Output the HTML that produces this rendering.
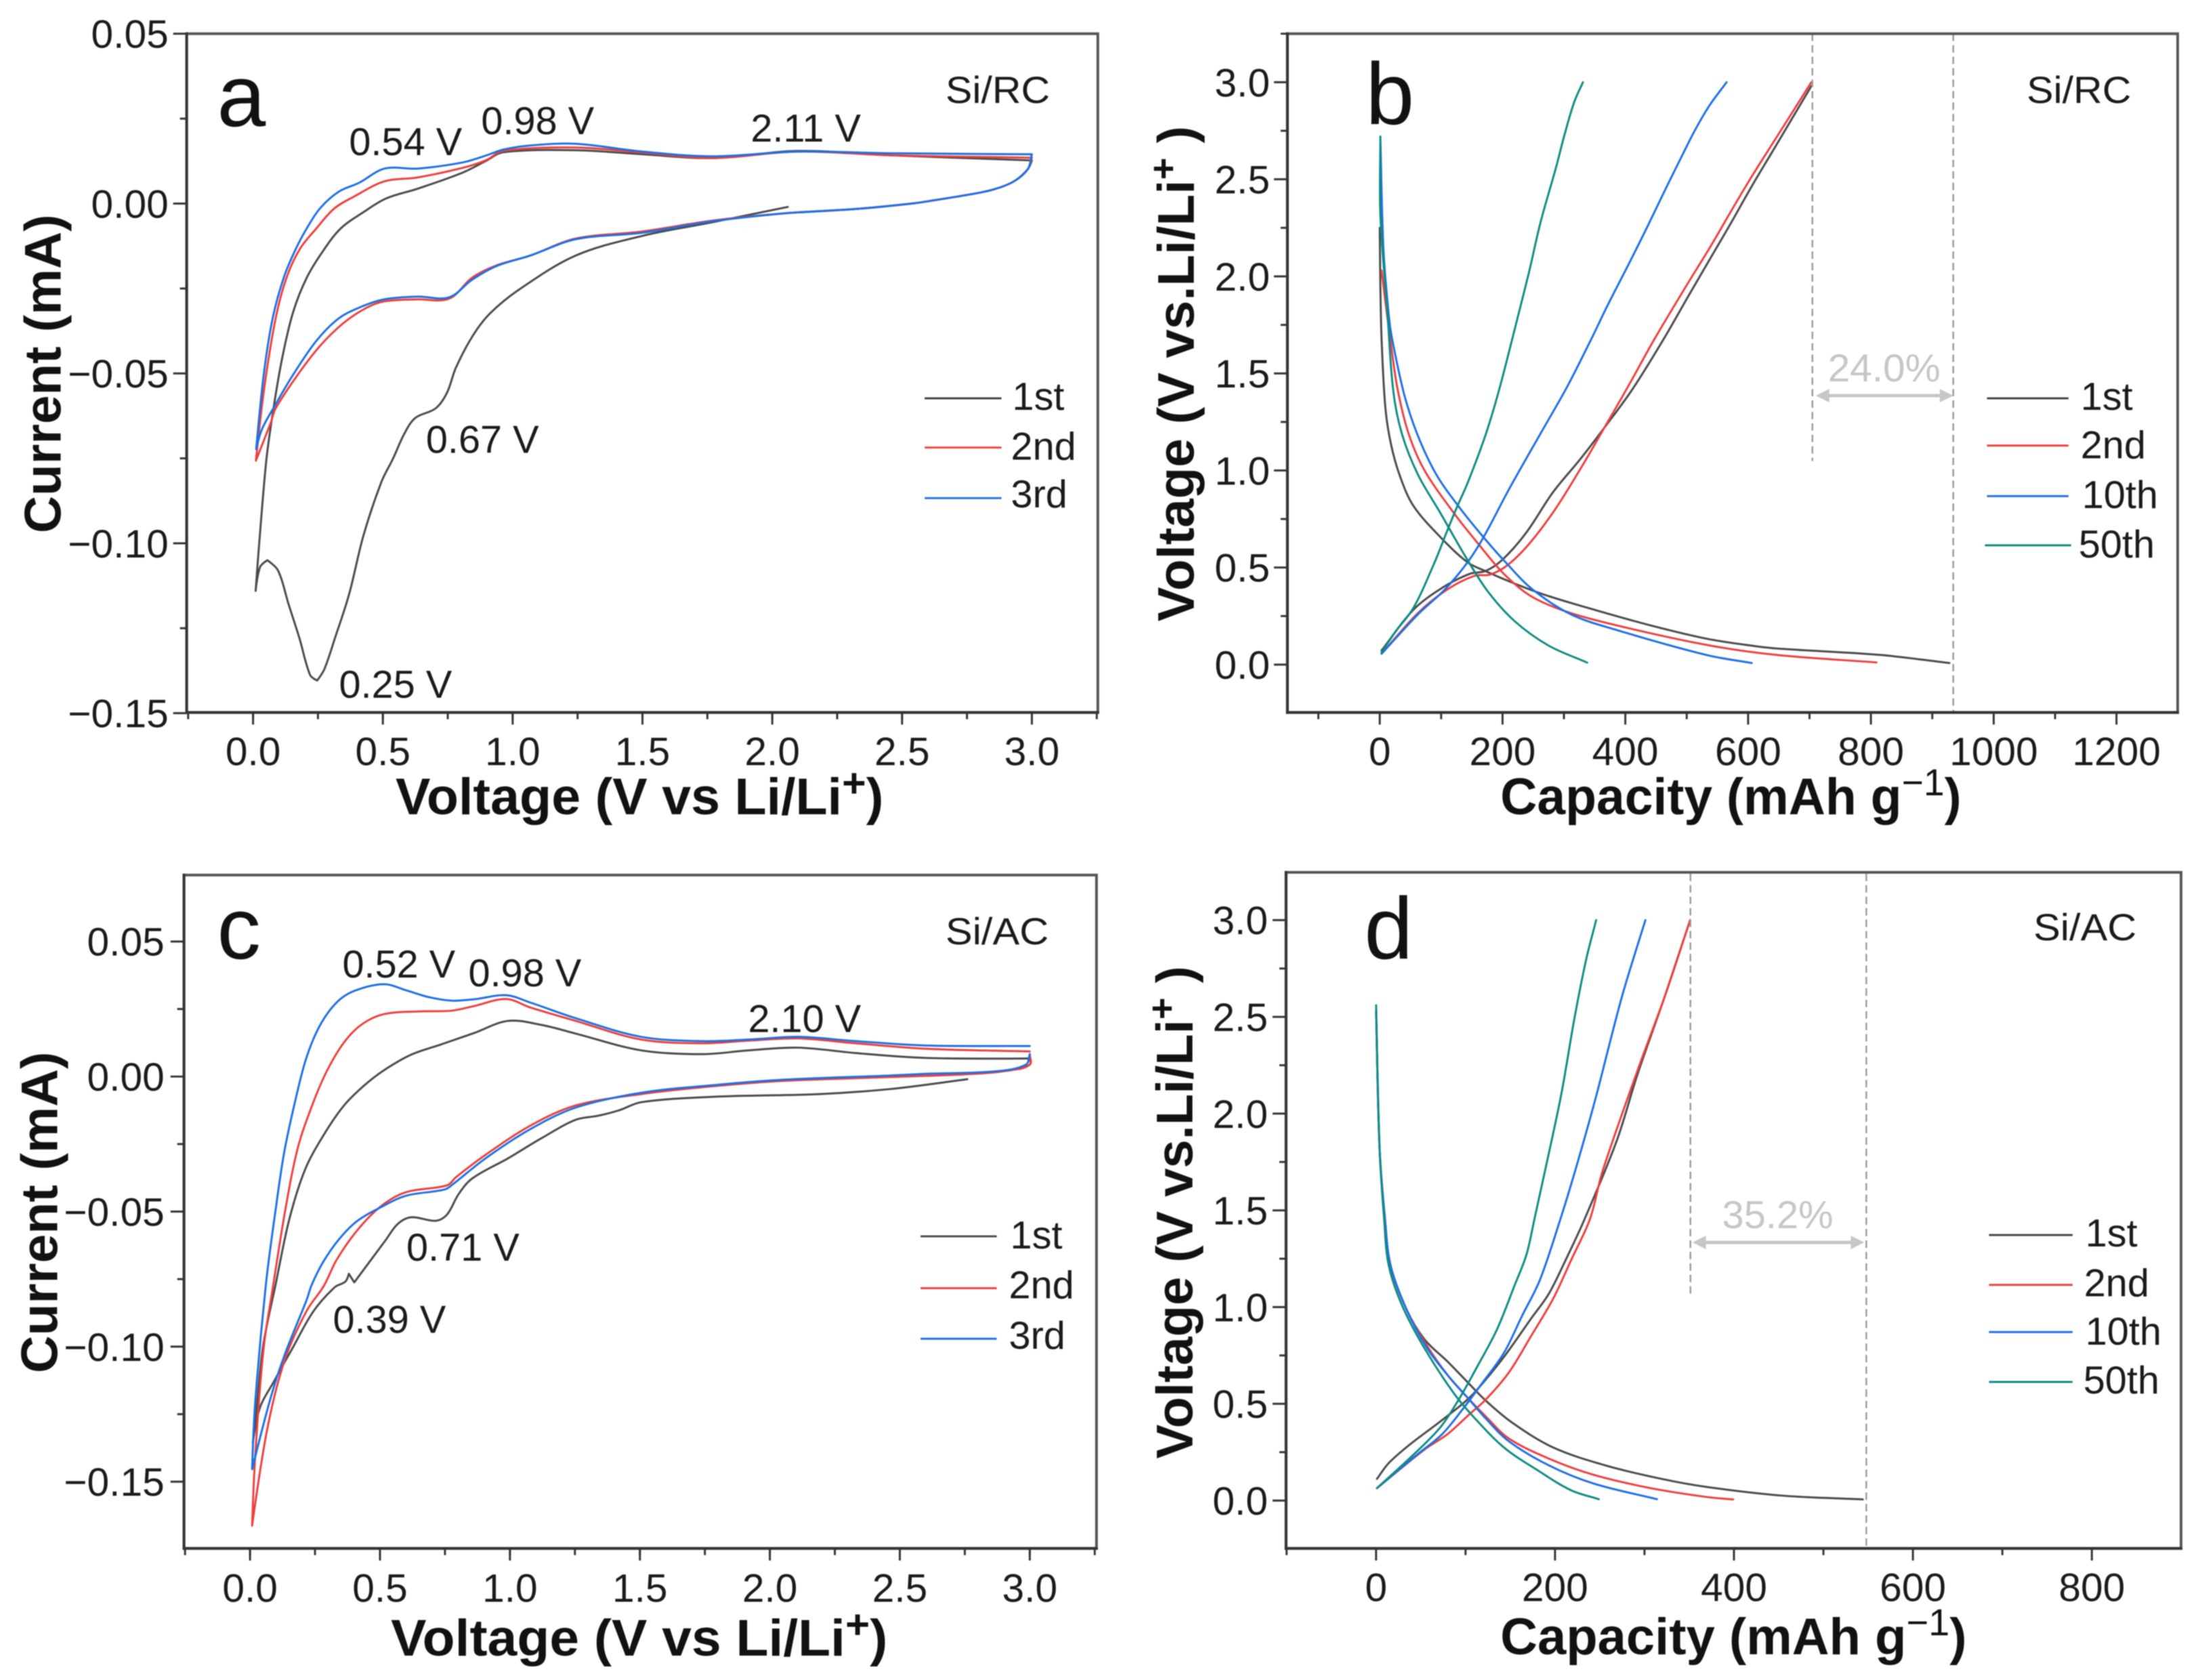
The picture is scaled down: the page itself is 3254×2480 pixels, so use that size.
<!DOCTYPE html>
<html lang="en">
<head>
<meta charset="utf-8">
<title>Cyclic voltammetry and charge-discharge curves for Si/RC and Si/AC</title>
<style>
html,body{margin:0;padding:0;background:#fff;width:3254px;height:2480px;overflow:hidden}
svg{display:block;filter:blur(0.9px)}
text{font-family:"Liberation Sans",Arial,sans-serif;fill:#1a1a1a}
.tick{font-size:59px}
.ann{font-size:58px}
.leg{font-size:58px}
.tag{font-size:56px}
.letter{font-size:130px;fill:#111}
.title{font-size:76px;font-weight:bold;fill:#111}
.pct{font-size:58px;fill:#c6c6c6}
</style>
</head>
<body>
<svg id="figure" xmlns="http://www.w3.org/2000/svg" width="3254" height="2480" viewBox="0 0 3254 2480">
<rect x="0" y="0" width="3254" height="2480" fill="#fff"/>

<g id="panel-a" transform="scale(.995)">
  <text class="letter" x="322" y="187">a</text>
  <text class="tag" x="1403" y="153" textLength="155" lengthAdjust="spacingAndGlyphs">Si/RC</text>
  <text class="ann" x="518" y="230">0.54 V</text>
  <text class="ann" x="714" y="199">0.98 V</text>
  <text class="ann" x="1114" y="210">2.11 V</text>
  <text class="ann" x="632" y="672">0.67 V</text>
  <text class="ann" x="503" y="1035">0.25 V</text>
  <text class="title" x="587" y="1208" textLength="724" lengthAdjust="spacingAndGlyphs">Voltage (V vs Li/Li<tspan dy="-26" font-size="60">+</tspan><tspan dy="26">)</tspan></text>
  <text class="title" transform="translate(90,791) rotate(-90)" x="0" y="0" textLength="473" lengthAdjust="spacingAndGlyphs">Current (mA)</text>
  <g>
    <line x1="1372" y1="591" x2="1486" y2="591" stroke="#444" stroke-width="3"/>
    <text class="leg" x="1502" y="608">1st</text>
    <line x1="1372" y1="664" x2="1486" y2="664" stroke="#e8403f" stroke-width="3"/>
    <text class="leg" x="1500" y="682">2nd</text>
    <line x1="1372" y1="739" x2="1486" y2="739" stroke="#1f6fe0" stroke-width="3"/>
    <text class="leg" x="1500" y="753">3rd</text>
  </g>
</g>

<g id="panel-b" transform="translate(8.25,0) scale(.995)">
  <text class="letter" x="2018" y="184">b</text>
  <text class="tag" x="2999" y="153" textLength="155" lengthAdjust="spacingAndGlyphs">Si/RC</text>
  <line x1="2681" y1="50" x2="2681" y2="684" stroke="#9a9a9a" stroke-width="2.5" stroke-dasharray="11 6"/>
  <line x1="2890" y1="50" x2="2890" y2="1057" stroke="#9a9a9a" stroke-width="2.5" stroke-dasharray="11 6"/>
  <text class="pct" x="2704" y="566" textLength="167" lengthAdjust="spacingAndGlyphs">24.0%</text>
  <g fill="#c6c6c6" stroke="#c6c6c6">
    <line x1="2700" y1="587" x2="2876" y2="587" stroke-width="5"/>
    <polygon points="2686,587 2706,577 2706,597" stroke="none"/>
    <polygon points="2890,587 2870,577 2870,597" stroke="none"/>
  </g>
  <text class="title" x="2218" y="1208" textLength="684" lengthAdjust="spacingAndGlyphs">Capacity (mAh g<tspan dy="-28" font-size="56" font-weight="normal">−1</tspan><tspan dy="28">)</tspan></text>
  <text class="title" transform="translate(1763,922) rotate(-90)" x="0" y="0" textLength="735" lengthAdjust="spacingAndGlyphs">Voltage (V vs.Li/Li<tspan dy="-26" font-size="56">+</tspan><tspan dy="26"> )</tspan></text>
  <g>
    <line x1="2940" y1="591" x2="3061" y2="591" stroke="#444" stroke-width="3"/>
    <text class="leg" x="3079" y="608">1st</text>
    <line x1="2940" y1="661" x2="3061" y2="661" stroke="#e8403f" stroke-width="3"/>
    <text class="leg" x="3079" y="680">2nd</text>
    <line x1="2940" y1="736" x2="3061" y2="736" stroke="#1f6fe0" stroke-width="3"/>
    <text class="leg" x="3081" y="754">10th</text>
    <line x1="2937" y1="809" x2="3065" y2="809" stroke="#0f8a80" stroke-width="3"/>
    <text class="leg" x="3076" y="827">50th</text>
  </g>
</g>

<g id="panel-c" transform="translate(0,6.2) scale(.995)">
  <text class="letter" x="322" y="1416">c</text>
  <text class="tag" x="1403" y="1395" textLength="153" lengthAdjust="spacingAndGlyphs">Si/AC</text>
  <text class="ann" x="508" y="1444">0.52 V</text>
  <text class="ann" x="695" y="1457">0.98 V</text>
  <text class="ann" x="1110" y="1525">2.10 V</text>
  <text class="ann" x="603" y="1864">0.71 V</text>
  <text class="ann" x="494" y="1971">0.39 V</text>
  <text class="title" x="580" y="2450" textLength="737" lengthAdjust="spacingAndGlyphs">Voltage (V vs Li/Li<tspan dy="-26" font-size="60">+</tspan><tspan dy="26">)</tspan></text>
  <text class="title" transform="translate(85,2031) rotate(-90)" x="0" y="0" textLength="477" lengthAdjust="spacingAndGlyphs">Current (mA)</text>
  <g>
    <line x1="1366" y1="1828" x2="1479" y2="1828" stroke="#444" stroke-width="3"/>
    <text class="leg" x="1499" y="1846">1st</text>
    <line x1="1366" y1="1905" x2="1479" y2="1905" stroke="#e8403f" stroke-width="3"/>
    <text class="leg" x="1497" y="1920">2nd</text>
    <line x1="1366" y1="1980" x2="1479" y2="1980" stroke="#1f6fe0" stroke-width="3"/>
    <text class="leg" x="1497" y="1995">3rd</text>
  </g>
</g>

<g id="panel-d" transform="translate(8.25,6.2) scale(.995)">
  <text class="letter" x="2016" y="1416">d</text>
  <text class="tag" x="3009" y="1389" textLength="153" lengthAdjust="spacingAndGlyphs">Si/AC</text>
  <line x1="2500" y1="1290" x2="2500" y2="1916" stroke="#9a9a9a" stroke-width="2.5" stroke-dasharray="11 6"/>
  <line x1="2761" y1="1290" x2="2761" y2="2291" stroke="#9a9a9a" stroke-width="2.5" stroke-dasharray="11 6"/>
  <text class="pct" x="2547" y="1816" textLength="165" lengthAdjust="spacingAndGlyphs">35.2%</text>
  <g fill="#c6c6c6" stroke="#c6c6c6">
    <line x1="2516" y1="1837" x2="2744" y2="1837" stroke-width="5"/>
    <polygon points="2503,1837 2523,1827 2523,1847" stroke="none"/>
    <polygon points="2758,1837 2738,1827 2738,1847" stroke="none"/>
  </g>
  <text class="title" x="2218" y="2448" textLength="692" lengthAdjust="spacingAndGlyphs">Capacity (mAh g<tspan dy="-28" font-size="56" font-weight="normal">−1</tspan><tspan dy="28">)</tspan></text>
  <text class="title" transform="translate(1761,2158) rotate(-90)" x="0" y="0" textLength="731" lengthAdjust="spacingAndGlyphs">Voltage (V vs.Li/Li<tspan dy="-26" font-size="56">+</tspan><tspan dy="26"> )</tspan></text>
  <g>
    <line x1="2943" y1="1826" x2="3067" y2="1826" stroke="#444" stroke-width="3"/>
    <text class="leg" x="3086" y="1843">1st</text>
    <line x1="2943" y1="1900" x2="3067" y2="1900" stroke="#e8403f" stroke-width="3"/>
    <text class="leg" x="3084" y="1917">2nd</text>
    <line x1="2943" y1="1970" x2="3067" y2="1970" stroke="#1f6fe0" stroke-width="3"/>
    <text class="leg" x="3086" y="1989">10th</text>
    <line x1="2943" y1="2044" x2="3067" y2="2044" stroke="#0f8a80" stroke-width="3"/>
    <text class="leg" x="3083" y="2061">50th</text>
  </g>
</g>
</svg>

<script>
// ---------- Tick values and labels ----------
const cvXTicks = [0, 0.5, 1, 1.5, 2, 2.5, 3];
const cvXLabels = ["0.0", "0.5", "1.0", "1.5", "2.0", "2.5", "3.0"];
const aYTicks = [0.05, 0, -0.05, -0.10, -0.15];
const aYLabels = ["0.05", "0.00", "−0.05", "−0.10", "−0.15"];
const cYTicks = [0.05, 0, -0.05, -0.10, -0.15];
const cYLabels = ["0.05", "0.00", "−0.05", "−0.10", "−0.15"];
const voltTicks = [0, 0.5, 1, 1.5, 2, 2.5, 3];
const voltLabels = ["0.0", "0.5", "1.0", "1.5", "2.0", "2.5", "3.0"];
const bXTicks = [0, 200, 400, 600, 800, 1000, 1200];
const bXLabels = ["0", "200", "400", "600", "800", "1000", "1200"];
const dXTicks = [0, 200, 400, 600, 800];
const dXLabels = ["0", "200", "400", "600", "800"];

// ---------- Panel a: CV, Si/RC [voltage, current] ----------
const a1st = [[2.06,-.001],[1.77,-.0055],[1.5,-.0095],[1.243,-.0153],[1.027,-.0252],[.912,-.0324],[.844,-.0392],[.781,-.0484],[.747,-.0557],[.703,-.0603],[.625,-.0631],[.583,-.0677],[.539,-.0751],[.494,-.082],[.425,-.0978],[.37,-.115],[.316,-.1278],[.275,-.137],[.247,-.1404],[.22,-.1388],[.178,-.1278],[.137,-.118],[.096,-.108],[.055,-.105],[.027,-.107],[.01,-.114],[.025,-.0988],[.051,-.0757],[.077,-.0611],[.113,-.0452],[.155,-.0318],[.207,-.0218],[.27,-.0139],[.338,-.0073],[.426,-.0025],[.513,.0015],[.635,.0044],[.807,.0091],[.896,.0125],[.964,.0151],[1.243,.0157],[1.5,.0145],[1.77,.0134],[2.1,.0155],[2.457,.0142],[3,.0127],[2.984,.0101],[2.93,.0065],[2.85,.0041],[2.747,.0025],[2.634,.0011],[2.548,.0001],[2.32,-.0016],[2.06,-.0028]];
const a2nd = [[3,.0135],[2.984,.0101],[2.93,.0065],[2.85,.0041],[2.747,.0025],[2.634,.0011],[2.548,.0001],[2.32,-.0016],[2.06,-.0028],[1.77,-.005],[1.5,-.0082],[1.243,-.0103],[1.068,-.0153],[.938,-.0182],[.844,-.0218],[.755,-.028],[.635,-.0282],[.505,-.0288],[.434,-.0308],[.348,-.0352],[.259,-.0418],[.173,-.0503],[.087,-.0603],[.069,-.0643],[.011,-.0757],[.043,-.0543],[.087,-.0338],[.129,-.0218],[.181,-.0133],[.244,-.0073],[.312,-.0015],[.39,.0021],[.505,.0065],[.635,.0077],[.807,.0105],[.896,.0127],[.964,.0155],[1.243,.0165],[1.5,.015],[1.77,.0134],[2.1,.0153],[2.457,.0142],[3,.0135]];
const a3rd = [[3,.0145],[2.984,.0101],[2.93,.0065],[2.85,.0041],[2.747,.0025],[2.634,.0011],[2.548,.0001],[2.32,-.0016],[2.06,-.0028],[1.77,-.0052],[1.5,-.0086],[1.243,-.0105],[1.068,-.0153],[.938,-.0184],[.844,-.0224],[.755,-.0276],[.635,-.0274],[.505,-.0282],[.416,-.0304],[.33,-.0338],[.244,-.0404],[.155,-.0503],[.087,-.0591],[.035,-.0663],[.012,-.0723],[.043,-.0492],[.077,-.0332],[.121,-.0212],[.165,-.0133],[.207,-.0073],[.259,-.0013],[.33,.0035],[.408,.0061],[.507,.0103],[.635,.0103],[.807,.0121],[.896,.0141],[.964,.0159],[1.068,.0171],[1.243,.0176],[1.5,.0153],[1.77,.0139],[2.1,.0153],[2.457,.0148],[3,.0145]];

// ---------- Panel b: charge/discharge, Si/RC [capacity, voltage] ----------
const b1stDischarge = [[0,2.25],[1,1.95],[3,1.68],[9,1.33],[18,1.14],[33,.97],[55,.817],[99,.656],[143,.527],[172,.482],[216,.422],[268,.36],[349,.283],[441,.202],[533,.133],[600,.1],[646,.083],[815,.05],[928,.008]];
const b1stCharge = [[3,.073],[55,.283],[103,.398],[147,.468],[172,.482],[199,.538],[238,.677],[282,.887],[327,1.06],[367,1.225],[412,1.42],[463,1.68],[503,1.9],[538,2.09],[573,2.28],[607,2.47],[641,2.65],[671,2.81],[703,2.98]];
const b2ndDischarge = [[3,2.03],[10,1.85],[17,1.68],[29,1.42],[47,1.19],[73,1],[121,.78],[161,.62],[202,.468],[246,.353],[305,.272],[386,.202],[533,.101],[646,.05],[809,.011]];
const b2ndCharge = [[3,.056],[62,.265],[110,.387],[154,.457],[180,.464],[210,.517],[246,.632],[287,.806],[331,1.03],[364,1.21],[404,1.43],[448,1.68],[503,1.97],[538,2.15],[573,2.34],[607,2.52],[641,2.69],[671,2.84],[703,3]];
const b10thDischarge = [[1,2.72],[6,2.14],[15,1.79],[20,1.68],[40,1.39],[62,1.18],[92,.98],[128,.817],[169,.656],[205,.527],[249,.387],[312,.258],[386,.178],[533,.049],[606,.008]];
const b10thCharge = [[3,.056],[62,.258],[106,.387],[143,.527],[169,.656],[210,.9],[260,1.18],[305,1.43],[345,1.68],[371,1.85],[405,2.06],[435,2.25],[464,2.44],[489,2.6],[513,2.75],[537,2.88],[565,3]];
const b50thDischarge = [[1,2.72],[1,2.32],[13,1.79],[22,1.41],[36,1.19],[62,.98],[99,.78],[139,.56],[176,.377],[220,.223],[275,.098],[338,.01]];
const b50thCharge = [[3,.063],[25,.167],[55,.293],[88,.517],[110,.69],[125,.806],[143,.935],[172,1.18],[194,1.41],[216,1.68],[243,2.02],[262,2.28],[287,2.56],[301,2.73],[317,2.9],[331,3]];

// ---------- Panel c: CV, Si/AC [voltage, current] ----------
const c1st = [[2.76,-.001],[2.465,-.0046],[2.19,-.0065],[1.78,-.0075],[1.505,-.0095],[1.42,-.0125],[1.34,-.0145],[1.253,-.016],[1.122,-.0228],[.992,-.0303],[.854,-.0378],[.802,-.0436],[.758,-.0511],[.714,-.0534],[.62,-.0521],[.568,-.0546],[.523,-.0604],[.401,-.0762],[.38,-.073],[.367,-.0759],[.326,-.078],[.244,-.0869],[.162,-.1008],[.093,-.1127],[.038,-.1226],[.011,-.1355],[.02,-.1286],[.05,-.1],[.098,-.0772],[.151,-.0529],[.211,-.0346],[.281,-.022],[.359,-.011],[.437,-.0035],[.515,.0023],[.62,.0081],[.732,.0118],[.862,.0161],[.992,.0206],[1.122,.0191],[1.253,.0159],[1.505,.0097],[1.74,.0083],[1.92,.0097],[2.11,.0107],[2.33,.0087],[2.6,.0069],[3,.0067],[3,.0044],[2.93,.0024],[2.79,.001]];
const c2nd = [[3,.0083],[3,.0044],[2.93,.0024],[2.79,.001],[2.465,-.0002],[2.05,-.0016],[1.78,-.0036],[1.505,-.0065],[1.253,-.0107],[1.078,-.0182],[.906,-.029],[.792,-.0373],[.758,-.0403],[.601,-.0428],[.505,-.0479],[.411,-.0571],[.333,-.0679],[.284,-.0775],[.217,-.0869],[.134,-.1048],[.066,-.1306],[.008,-.1663],[.02,-.1405],[.052,-.1008],[.088,-.078],[.137,-.0487],[.185,-.026],[.244,-.0094],[.297,.0023],[.359,.0123],[.427,.0191],[.515,.0231],[.646,.0241],[.776,.0244],[.862,.0261],[.985,.0287],[1.078,.0256],[1.253,.0206],[1.505,.0137],[1.74,.0123],[1.92,.0133],[2.11,.0141],[2.33,.0123],[2.6,.0103],[3,.0093]];
const c3rd = [[3,.0083],[2.985,.0044],[2.875,.002],[2.6,.001],[2.465,.0004],[2.05,-.0012],[1.78,-.0032],[1.505,-.006],[1.253,-.0115],[1.078,-.0195],[.906,-.0303],[.784,-.0396],[.75,-.0418],[.601,-.0441],[.505,-.0483],[.411,-.0536],[.341,-.0604],[.281,-.0687],[.237,-.0772],[.217,-.0829],[.134,-.1028],[.08,-.1187],[.008,-.1454],[.02,-.1206],[.062,-.0762],[.098,-.0496],[.132,-.0278],[.177,-.0077],[.218,.0073],[.27,.0191],[.333,.0274],[.401,.0317],[.515,.0342],[.601,.0319],[.688,.0294],[.776,.0281],[.862,.0286],[.985,.0301],[1.078,.0274],[1.253,.0216],[1.505,.0147],[1.74,.0131],[1.92,.0137],[2.11,.0147],[2.33,.0131],[2.6,.0115],[3,.0113]];

// ---------- Panel d: charge/discharge, Si/AC [capacity, voltage] ----------
const d1stDischarge = [[0,2.53],[4,1.81],[10,1.454],[16,1.219],[34,.988],[54,.834],[80,.718],[102,.613],[122,.519],[152,.403],[198,.274],[256,.182],[319,.112],[370,.07],[455,.025],[544,.006]];
const d1stCharge = [[1,.112],[14,.193],[37,.287],[67,.392],[97,.501],[112,.568],[143,.743],[173,.939],[193,1.068],[213,1.254],[233,1.454],[269,1.86],[292,2.2],[323,2.61],[351,3]];
const d2ndDischarge = [[0,2.53],[4,1.81],[10,1.454],[16,1.219],[34,.988],[57,.8],[80,.648],[102,.533],[122,.438],[148,.322],[193,.217],[243,.133],[307,.064],[370,.018],[399,.006]];
const d2ndCharge = [[1,.064],[54,.263],[80,.344],[105,.449],[122,.519],[148,.659],[173,.848],[198,1.044],[218,1.243],[239,1.454],[253,1.7],[292,2.22],[323,2.61],[351,3]];
const d10thDischarge = [[0,2.53],[4,1.81],[10,1.454],[16,1.219],[34,.988],[57,.788],[80,.648],[102,.533],[122,.427],[148,.308],[193,.182],[243,.088],[314,.007]];
const d10thCharge = [[1,.064],[46,.238],[74,.344],[97,.473],[118,.603],[143,.764],[163,.953],[183,1.139],[206,1.454],[226,1.76],[246,2.09],[262,2.38],[277,2.64],[301,3]];
const d50thDischarge = [[0,2.56],[4,1.81],[9,1.454],[14,1.219],[29,1.009],[54,.788],[87,.554],[110,.427],[143,.274],[180,.158],[218,.053],[249,.007]];
const d50thCharge = [[1,.064],[42,.238],[72,.379],[92,.519],[112,.683],[135,.883],[155,1.114],[168,1.27],[177,1.454],[191,1.75],[207,2.1],[222,2.5],[235,2.8],[246,3]];

const SVGNS = "http://www.w3.org/2000/svg";
const INK = "#333";
const GREY = "#4a4a4a", RED = "#e8403f", BLUE = "#1f6fe0", TEAL = "#0f8a80";

function add(parent, tag, attrs) {
  const el = document.createElementNS(SVGNS, tag);
  for (const k in attrs) el.setAttribute(k, attrs[k]);
  parent.appendChild(el);
  return el;
}

function scale(d0, d1, p0, p1) {
  return v => p0 + (v - d0) * (p1 - p0) / (d1 - d0);
}

function tangentAt(p, i) {
  const a = p[Math.max(i - 1, 0)], b = p[i], c = p[Math.min(i + 1, p.length - 1)];
  const ux = b[0] - a[0], uy = b[1] - a[1], vx = c[0] - b[0], vy = c[1] - b[1];
  const lu = Math.hypot(ux, uy), lv = Math.hypot(vx, vy);
  if (lu > 0 && lv > 0 && (ux * vx + uy * vy) / (lu * lv) < 0.25) return [0, 0];
  const tx = c[0] - a[0], ty = c[1] - a[1], l = Math.hypot(tx, ty) || 1;
  return [tx / l, ty / l];
}

function smoothPath(points, sx, sy) {
  const p = points.map(q => [sx(q[0]), sy(q[1])]);
  let d = "M" + p[0][0].toFixed(1) + " " + p[0][1].toFixed(1);
  for (let i = 0; i < p.length - 1; i++) {
    const b = p[i], c = p[i + 1];
    const len = Math.hypot(c[0] - b[0], c[1] - b[1]) / 3;
    const t0 = tangentAt(p, i), t1 = tangentAt(p, i + 1);
    d += "C" + (b[0] + t0[0] * len).toFixed(1) + " " + (b[1] + t0[1] * len).toFixed(1) + " " + (c[0] - t1[0] * len).toFixed(1) + " " + (c[1] - t1[1] * len).toFixed(1) + " " + c[0].toFixed(1) + " " + c[1].toFixed(1);
  }
  return d;
}

function drawPanel(id, box, domain, xTicks, xLabels, xMinorStep, yTicks, yLabels, yMinorStep, labelRight, xLabelY, series) {
  const host = document.getElementById(id);
  const first = host.firstElementChild;
  const sx = scale(domain.x0, domain.x1, box.l, box.r);
  const sy = scale(domain.y0, domain.y1, box.b, box.t);

  const curves = document.createElementNS(SVGNS, "g");
  
  
  host.insertBefore(curves, first);
  for (const s of series) {
    const path = add(curves, "path", {d: smoothPath(s.values, sx, sy), fill: "none", stroke: s.color, "stroke-width": 3, "stroke-linejoin": "round", "stroke-linecap": "round"});
    
    
  }

  const frame = add(host, "rect", {x: box.l, y: box.t, width: box.r - box.l, height: box.b - box.t, fill: "none", stroke: "#555", "stroke-width": 4});
  
  

  const xAxis = add(host, "g", {});
  
  
  const bottom = add(xAxis, "line", {x1: box.l - 2, y1: box.b, x2: box.r + 2, y2: box.b, stroke: INK, "stroke-width": 4});
  
  
  for (let v = domain.xMinorStart; v <= domain.x1 + 1e-9; v += xMinorStep) {
    const minor = add(xAxis, "line", {x1: sx(v), y1: box.b, x2: sx(v), y2: box.b + 10, stroke: INK, "stroke-width": 3});
    
    
  }
  xTicks.forEach((v, i) => {
    const major = add(xAxis, "line", {x1: sx(v), y1: box.b, x2: sx(v), y2: box.b + 18, stroke: INK, "stroke-width": 3});
    
    
    const label = add(xAxis, "text", {x: sx(v), y: xLabelY, "text-anchor": "middle", class: "tick"});
    label.textContent = xLabels[i];
    
    
  });

  const yAxis = add(host, "g", {});
  
  
  const left = add(yAxis, "line", {x1: box.l, y1: box.t - 2, x2: box.l, y2: box.b + 2, stroke: INK, "stroke-width": 4});
  
  
  for (let v = domain.yMinorStart; v <= domain.y1 + 1e-9; v += yMinorStep) {
    const minor = add(yAxis, "line", {x1: box.l - 10, y1: sy(v), x2: box.l, y2: sy(v), stroke: INK, "stroke-width": 3});
    
    
  }
  yTicks.forEach((v, i) => {
    const major = add(yAxis, "line", {x1: box.l - 20, y1: sy(v), x2: box.l, y2: sy(v), stroke: INK, "stroke-width": 3});
    
    
    const label = add(yAxis, "text", {x: labelRight, y: sy(v) + 21, "text-anchor": "end", class: "tick"});
    label.textContent = yLabels[i];
    
    
  });
}

drawPanel("panel-a", {l: 277, r: 1629, t: 50, b: 1057},
  {x0: -0.2557, x1: 3.2541, y0: -0.1498, y1: 0.05, xMinorStart: -0.25, yMinorStart: -0.125},
  cvXTicks, cvXLabels, 0.25, aYTicks, aYLabels, 0.05, 250, 1135, [
    {name: "cv-1st-cycle", color: GREY, values: a1st},
    {name: "cv-2nd-cycle", color: RED, values: a2nd},
    {name: "cv-3rd-cycle", color: BLUE, values: a3rd}
  ]);

drawPanel("panel-b", {l: 1902, r: 3223, t: 50, b: 1057},
  {x0: -150.4, x1: 1299.7, y0: -0.2465, y1: 3.25, xMinorStart: -100, yMinorStart: 0.25},
  bXTicks, bXLabels, 200, voltTicks, voltLabels, 0.5, 1876, 1135, [
    {name: "1st-discharge", color: GREY, values: b1stDischarge},
    {name: "1st-charge", color: GREY, values: b1stCharge},
    {name: "2nd-discharge", color: RED, values: b2ndDischarge},
    {name: "2nd-charge", color: RED, values: b2ndCharge},
    {name: "10th-discharge", color: BLUE, values: b10thDischarge},
    {name: "10th-charge", color: BLUE, values: b10thCharge},
    {name: "50th-discharge", color: TEAL, values: b50thDischarge},
    {name: "50th-charge", color: TEAL, values: b50thCharge}
  ]);

drawPanel("panel-c", {l: 273, r: 1627, t: 1292, b: 2291},
  {x0: -0.2541, x1: 3.2567, y0: -0.1747, y1: 0.0746, xMinorStart: -0.25, yMinorStart: -0.125},
  cvXTicks, cvXLabels, 0.25, cYTicks, cYLabels, 0.05, 244, 2370, [
    {name: "cv-1st-cycle", color: GREY, values: c1st},
    {name: "cv-2nd-cycle", color: RED, values: c2nd},
    {name: "cv-3rd-cycle", color: BLUE, values: c3rd}
  ]);

drawPanel("panel-d", {l: 1900, r: 3228, t: 1288, b: 2291},
  {x0: -100.6, x1: 899.7, y0: -0.2474, y1: 3.247, xMinorStart: -100, yMinorStart: 0.25},
  dXTicks, dXLabels, 200, voltTicks, voltLabels, 0.5, 1873, 2369, [
    {name: "1st-discharge", color: GREY, values: d1stDischarge},
    {name: "1st-charge", color: GREY, values: d1stCharge},
    {name: "2nd-discharge", color: RED, values: d2ndDischarge},
    {name: "2nd-charge", color: RED, values: d2ndCharge},
    {name: "10th-discharge", color: BLUE, values: d10thDischarge},
    {name: "10th-charge", color: BLUE, values: d10thCharge},
    {name: "50th-discharge", color: TEAL, values: d50thDischarge},
    {name: "50th-charge", color: TEAL, values: d50thCharge}
  ]);
</script>
</body>
</html>
